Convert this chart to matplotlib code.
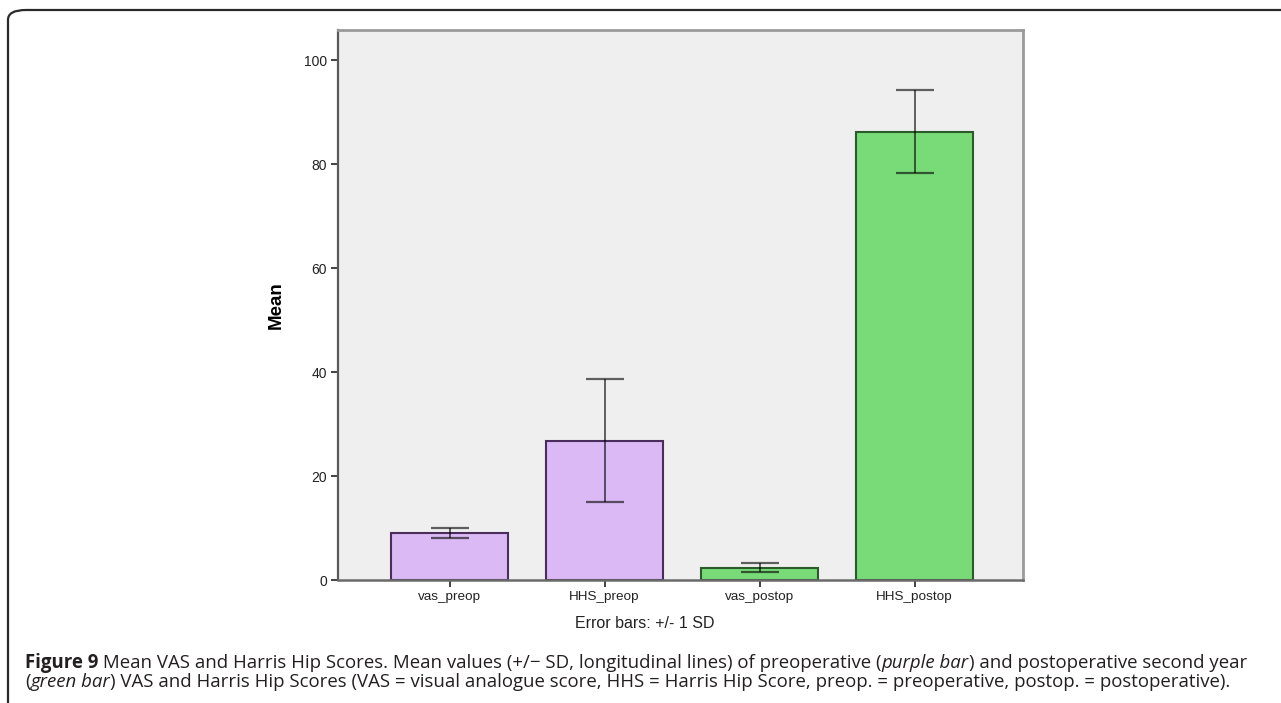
import matplotlib
matplotlib.use("Agg")
import matplotlib.pyplot as plt
from matplotlib.patches import FancyBboxPatch

# data
categories = ["vas_preop", "HHS_preop", "vas_postop", "HHS_postop"]
means = [9.0, 26.8, 2.4, 86.2]
sds = [1.0, 11.8, 0.9, 8.0]
bar_colors = ["#dbb9f4", "#dbb9f4", "#79db78", "#79db78"]
edge_colors = ["#4a2d5c", "#4a2d5c", "#2b5a2b", "#2b5a2b"]
yticks = [0, 20, 40, 60, 80, 100]

W, H = 1281, 703
fig = plt.figure(figsize=(W / 100, H / 100), dpi=100)
fig.patch.set_facecolor("white")

# outer rounded frame (cut at right and bottom)
frame = FancyBboxPatch((8 / W, -0.2), 1.2, (H - 10) / H + 0.2,
                       boxstyle="round,pad=0,rounding_size=0.014",
                       transform=fig.transFigure, fill=False,
                       edgecolor="#2a2a2a", linewidth=1.6, clip_on=False)
fig.patches.append(frame)

ax = fig.add_axes([338 / W, (H - 580) / H, 685 / W, 550 / H])
ax.set_facecolor("#efefef")
x = range(len(categories))
ax.bar(x, means, width=0.755, color=bar_colors, edgecolor=edge_colors,
       linewidth=1.5, zorder=2)
ax.errorbar(x, means, yerr=sds, fmt="none", ecolor="black", alpha=0.6,
            elinewidth=1.4, capsize=13.5, capthick=1.6, zorder=3)

ax.set_xlim(-0.72, 3.70)
ax.set_ylim(0, 105.8)
ax.set_xticks(list(x))
ax.set_xticklabels(categories)
ax.set_yticks(yticks)

for side in ["top", "right"]:
    ax.spines[side].set_color("#9a9a9a")
    ax.spines[side].set_linewidth(2.0)
ax.spines["left"].set_color("#5a5a5a")
ax.spines["left"].set_linewidth(1.6)
ax.spines["bottom"].set_color("#6a6a6a")
ax.spines["bottom"].set_linewidth(1.8)

ax.tick_params(axis="both", direction="out", length=5, width=1.3,
               color="#333333", labelcolor="#222222", pad=3)
ax.tick_params(axis="y", labelsize=10)
ax.tick_params(axis="x", labelsize=9.7)
for lab in ax.get_xticklabels() + ax.get_yticklabels():
    lab.set_family("Liberation Sans")
ax.set_ylabel("Mean", fontsize=13.5, fontweight="bold", family="Liberation Sans")
ax.yaxis.set_label_coords(-0.0774, 0.5)
fig.text(645 / W, 1 - 624 / H, "Error bars: +/- 1 SD", ha="center", va="center",
         fontsize=11.5, family="Liberation Sans", color="#222222")

# caption, written piece by piece
line1 = [("Figure 9", "normal", "bold"),
         (" Mean VAS and Harris Hip Scores. Mean values (+/\u2212 SD, longitudinal lines) of preoperative (", "normal", "normal"),
         ("purple bar", "italic", "normal"),
         (") and postoperative second year", "normal", "normal")]
line2 = [("(", "normal", "normal"),
         ("green bar", "italic", "normal"),
         (") VAS and Harris Hip Scores (VAS = visual analogue score, HHS = Harris Hip Score, preop. = preoperative, postop. = postoperative).", "normal", "normal")]

renderer = fig.canvas.get_renderer()


def write_line(parts, y, size, draw=True):
    xpos = 25
    made = []
    for txt, style, weight in parts:
        t = fig.text(xpos / W, 1 - y / H, txt, fontsize=size, style=style,
                     fontweight=weight, family="Open Sans", color="#231f20",
                     va="center", ha="left")
        made.append(t)
        xpos = xpos + t.get_window_extent(renderer).width
    if not draw:
        for t in made:
            t.remove()
    return xpos


# pick the caption size so the first line ends where the reference does
probe = write_line(line1, 663, 10, draw=False)
size = 10 * (1247 - 25) / (probe - 25)
write_line(line1, 663, size)
write_line(line2, 682, size)

fig.savefig("out.png", dpi=100)
